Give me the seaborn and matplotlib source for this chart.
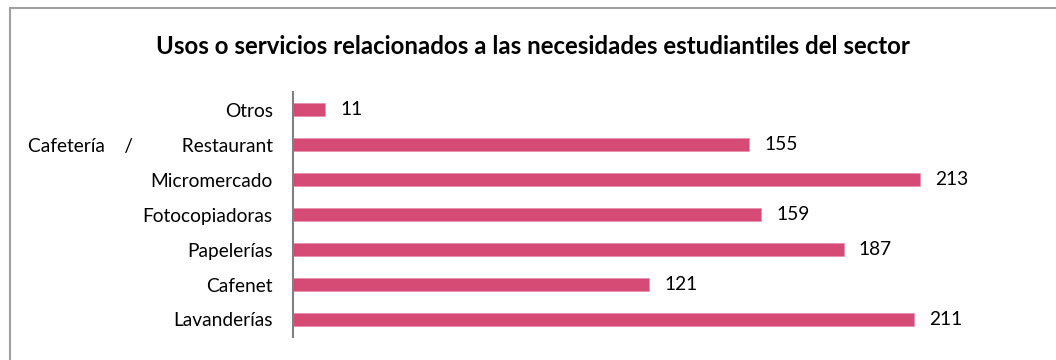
import matplotlib
matplotlib.use("Agg")
import matplotlib.pyplot as plt
from matplotlib.patches import Rectangle
import seaborn as sns
import pandas as pd

categories = ["Otros", "Cafetería    /          Restaurant", "Micromercado", "Fotocopiadoras",
              "Papelerías", "Cafenet", "Lavanderías"]
values = [11, 155, 213, 159, 187, 121, 211]
title = "Usos o servicios relacionados a las necesidades estudiantiles del sector"

sns.set_theme(style="white")
plt.rcParams['font.family'] = ['Lato', 'DejaVu Sans']

df = pd.DataFrame({"cat": categories, "val": values})

fig = plt.figure(figsize=(10.56, 3.6), dpi=100)
ax = fig.add_axes([293/1056, 1 - 337/360, (1010 - 293)/1056, 245/360])

sns.barplot(data=df, y="cat", x="val", order=categories, orient="h",
            color="#D64A76", saturation=1, width=0.38, ax=ax,
            edgecolor="#E890AC", linewidth=0.6)

ax.set_xlim(0, (1010 - 293) / 2.944)
ax.set_ylim(6.5, -0.5)
ax.set_xlabel("")
ax.set_ylabel("")
ax.set_xticks([])
ax.tick_params(axis="y", length=0, pad=14.5, labelsize=13.8, labelcolor="black")
for s in ["top", "right", "bottom"]:
    ax.spines[s].set_visible(False)
ax.spines["left"].set_color("#808080")
ax.spines["left"].set_linewidth(1.5)

for c in ax.containers:
    ax.bar_label(c, labels=[str(v) for v in values], padding=11, fontsize=13.8, color="black")

fig.text(533/1056, 1 - 46/360, title, ha="center", va="center",
         fontsize=17.3, fontweight="bold", color="black")

fig.patches.append(Rectangle((10/1056, -0.1), 1.2, (360 - 8)/360 + 0.1,
                             transform=fig.transFigure, fill=False,
                             edgecolor="#A0A0A0", linewidth=1.5))

fig.savefig("out.png", dpi=100)
